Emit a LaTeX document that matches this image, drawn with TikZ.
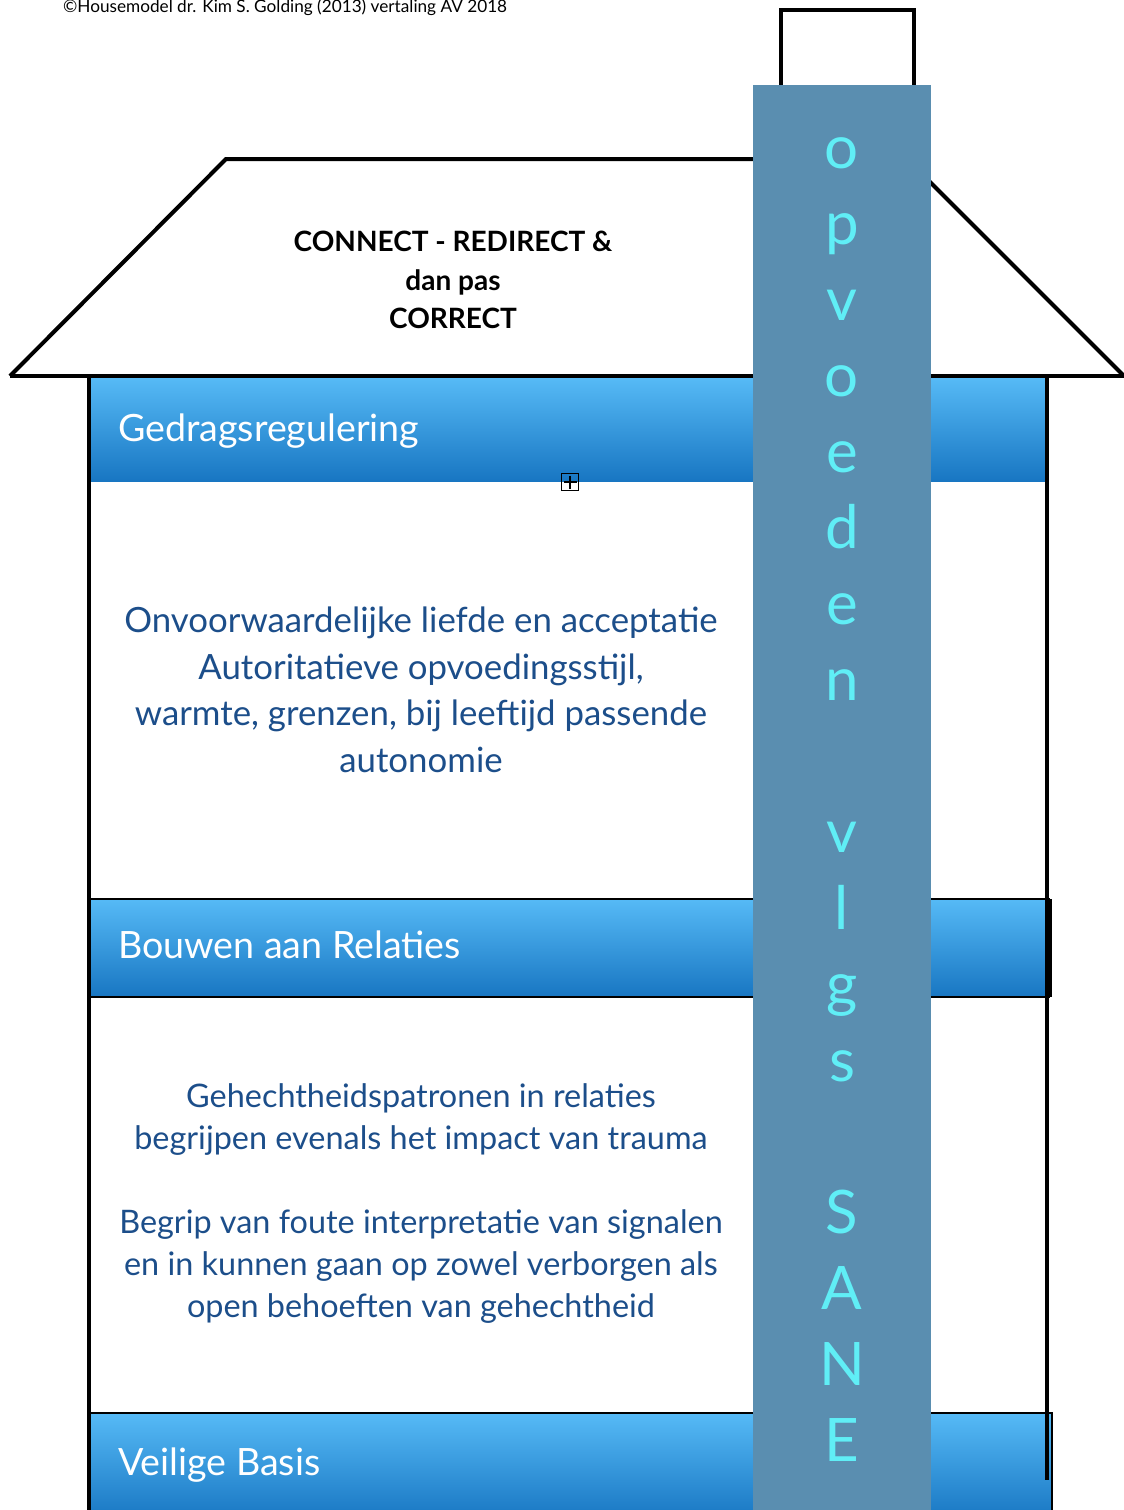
\documentclass[tikz,border=0pt]{standalone}
\usepackage{fontspec}
\setmainfont{Lato}
\usetikzlibrary{positioning}

\definecolor{chimblue}{RGB}{90,142,176}
\definecolor{letcyan}{RGB}{96,238,246}
\definecolor{bodyblue}{RGB}{28,78,138}
\definecolor{bandtop}{RGB}{86,186,246}
\definecolor{bandbot}{RGB}{24,118,194}

\tikzset{
  wall/.style={line width=2pt},
  band/.style={draw=black,line width=1pt,top color=bandtop,bottom color=bandbot},
  bandlabel/.style={anchor=base west,text=white,font=\fontsize{18.8}{22}\selectfont},
  bodytext/.style={align=center,text=bodyblue},
  letter/.style={anchor=base,text=letcyan,font=\fontsize{30}{30}\selectfont}
}

\begin{document}
\begin{tikzpicture}[x=0.5pt,y=-0.5pt]

\useasboundingbox (0,0) rectangle (1124,1510);

% roof
\draw[wall]  (10,376)  --  (226,159)  --  (907,159)  --  (1124,376);
\draw[wall]  (10,376)  --  (1124,376);

% bands
\shade[top color=bandtop,bottom color=bandbot]  (91,378)  rectangle  (1045,481);
\draw[band]  (89,899)  rectangle  (1049,997);
\draw[line width=2.5pt]  (1049,899)  --  (1049,997);
\draw[band]  (89,1413)  rectangle  (1052,1520);

% walls
\draw[wall]  (89,376)  --  (89,1510);
\draw[wall]  (1047,376)  --  (1047,1480);

% chimney
\draw[wall]  (781,86)  --  (781,10)  --  (914,10)  --  (914,86);
\fill[chimblue]  (753,85)  rectangle  (931,1510);

\foreach \ch [count=\i] in {o,p,v,o,e,d,e,n,{},v,l,g,s,{},S,A,N,E}
  \node[letter] (letter\i) at (842,{168+76.1*(\i-1)}) {\ch};

% texts
\node [anchor=base west,font=\fontsize{8.6}{10}\selectfont] (credit) at (56,12)
  {©Housemodel dr. Kim S. Golding (2013) vertaling AV 2018};

\node [align=center,font=\bfseries\fontsize{14}{19.25}\selectfont] (motto) at (453,280)
  {CONNECT - REDIRECT \&\\dan pas\\CORRECT};

\node [bandlabel] (gedrag) at (111,441) {Gedragsregulering};
\node [bandlabel] (relaties) at (111,958) {Bouwen aan Relaties};
\node [bandlabel] (basis) at (111,1475) {Veilige Basis};

\node [draw,line width=0.6pt,minimum size=8.5pt,inner sep=0pt] (plusbox) at (570,482) {};
\draw[line width=0.6pt]  ([yshift=-1.3pt]plusbox.north)  --  ([yshift=1.3pt]plusbox.south);
\draw[line width=0.6pt]  ([xshift=1.3pt]plusbox.west)  --  ([xshift=-1.3pt]plusbox.east);

\node [bodytext,font=\fontsize{17.4}{23.25}\selectfont] (liefde) at (421,690)
  {Onvoorwaardelijke liefde en acceptatie\\
   Autoritatieve opvoedingsstijl,\\
   warmte, grenzen, bij leeftijd passende\\
   autonomie};

\node [bodytext,font=\fontsize{16.2}{21}\selectfont] (gehecht) at (421,1204)
  {Gehechtheidspatronen in relaties\\
   begrijpen evenals het impact van trauma\\[21pt]
   Begrip van foute interpretatie van signalen\\
   en in kunnen gaan op zowel verborgen als\\
   open behoeften van gehechtheid};

\end{tikzpicture}
\end{document}
